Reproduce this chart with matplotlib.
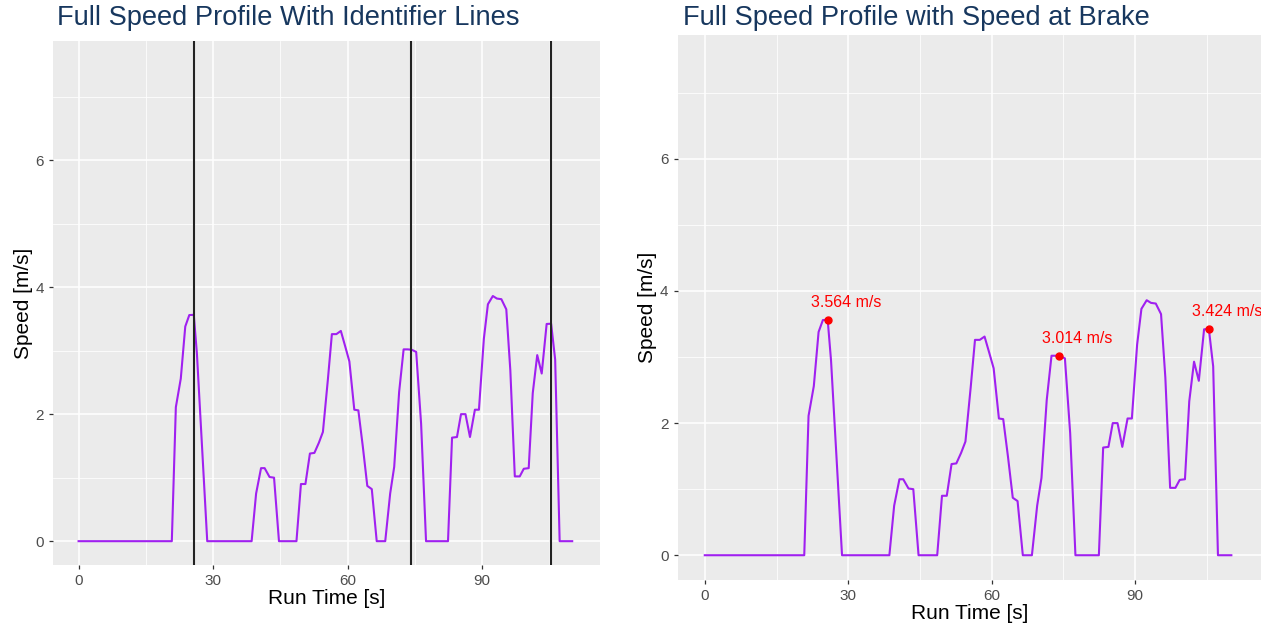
import matplotlib.pyplot as plt
from matplotlib.ticker import MultipleLocator

# ---------------------------------
# datos del perfil de velocidad
# ---------------------------------
run_time = [0, 20.8, 21.7, 22.8, 23.8, 24.7, 25.7, 26.4, 28.7, 38.6, 39.6, 40.7,
            41.5, 42.6, 43.6, 44.7, 48.6, 49.6, 50.6, 51.6, 52.6, 53.6, 54.5, 55.6,
            56.5, 57.5, 58.5, 59.5, 60.4, 61.5, 62.4, 63.4, 64.4, 65.4, 66.5, 68.4,
            69.5, 70.4, 71.5, 72.5, 73.4, 74.3, 75.3, 76.4, 77.5, 82.4, 83.3, 84.4,
            85.3, 86.3, 87.3, 88.4, 89.3, 90.4, 91.3, 92.4, 93.3, 94.3, 95.4, 96.3,
            97.3, 98.4, 99.3, 100.4, 101.3, 102.3, 103.3, 104.4, 105.4, 106.3,
            107.3, 110.1]
speed = [0, 0, 2.11, 2.56, 3.38, 3.56, 3.564, 2.95, 0, 0, 0.75, 1.15,
         1.15, 1.01, 1.0, 0, 0, 0.9, 0.9, 1.38, 1.39, 1.55, 1.72, 2.54,
         3.26, 3.26, 3.31, 3.06, 2.83, 2.07, 2.06, 1.49, 0.87, 0.82, 0, 0,
         0.75, 1.17, 2.35, 3.02, 3.02, 3.014, 2.98, 1.85, 0, 0, 1.63, 1.64,
         2.0, 2.0, 1.64, 2.07, 2.07, 3.19, 3.73, 3.86, 3.82, 3.81, 3.65, 2.69,
         1.02, 1.02, 1.14, 1.15, 2.33, 2.93, 2.64, 3.42, 3.424, 2.86,
         0, 0]

# momentos de frenado
brake_time = [25.7, 74.1, 105.4]
brake_speed = [3.564, 3.014, 3.424]
brake_label = ["3.564 m/s", "3.014 m/s", "3.424 m/s"]

plt.rcParams['font.family'] = ['Liberation Sans', 'DejaVu Sans']

fig = plt.figure(figsize=(12.69, 6.28), dpi=100)
W, H = 1269, 628


def ejes(x0, x1, top, bottom):
    ax = fig.add_axes([x0 / W, 1 - bottom / H, (x1 - x0) / W, (bottom - top) / H])
    ax.set_facecolor('#EBEBEB')
    ax.set_xlim(-5.7, 116.3)
    ax.set_ylim(-0.375, 7.875)
    ax.xaxis.set_major_locator(MultipleLocator(30))
    ax.xaxis.set_minor_locator(MultipleLocator(15))
    ax.yaxis.set_major_locator(MultipleLocator(2))
    ax.yaxis.set_minor_locator(MultipleLocator(1))
    ax.grid(True, which='major', color='white', lw=1.1)
    ax.grid(True, which='minor', color='white', lw=0.55)
    ax.set_axisbelow(True)
    for s in ax.spines.values():
        s.set_visible(False)
    ax.tick_params(which='major', length=3, width=0.9, color='#333333',
                   labelcolor='#4D4D4D', labelsize=11)
    ax.tick_params(which='minor', length=0)
    ax.set_xlabel("Run Time [s]", fontsize=15, color='black', labelpad=1)
    ax.set_ylabel("Speed [m/s]", fontsize=15, color='black', labelpad=2)
    return ax


# ---------------------------------
# panel izquierdo
# ---------------------------------
ax1 = ejes(53, 600, 41, 565)
ax1.plot(run_time, speed, color='#A020F0', lw=1.5, zorder=3)
for t in brake_time:
    ax1.axvline(t, color='#222222', lw=1.5, zorder=4)
fig.text(57 / W, 1 - 18 / H, "Full Speed Profile With Identifier Lines",
         fontsize=19.6, color='#17375E', va='center', ha='left')

# ---------------------------------
# panel derecho
# ---------------------------------
ax2 = ejes(677.5, 1261, 35, 580)
ax2.plot(run_time, speed, color='#A020F0', lw=1.5, zorder=3)
ax2.plot(brake_time, brake_speed, 'o', color='red', ms=5, zorder=4)
for t, v, txt in zip(brake_time, brake_speed, brake_label):
    ax2.text(t + 3.8, v + 0.26, txt, color='red', fontsize=11.5,
             ha='center', va='center', clip_on=True)
fig.text(683 / W, 1 - 18 / H, "Full Speed Profile with Speed at Brake",
         fontsize=19.6, color='#17375E', va='center', ha='left')

fig.savefig("out.png", dpi=100)
